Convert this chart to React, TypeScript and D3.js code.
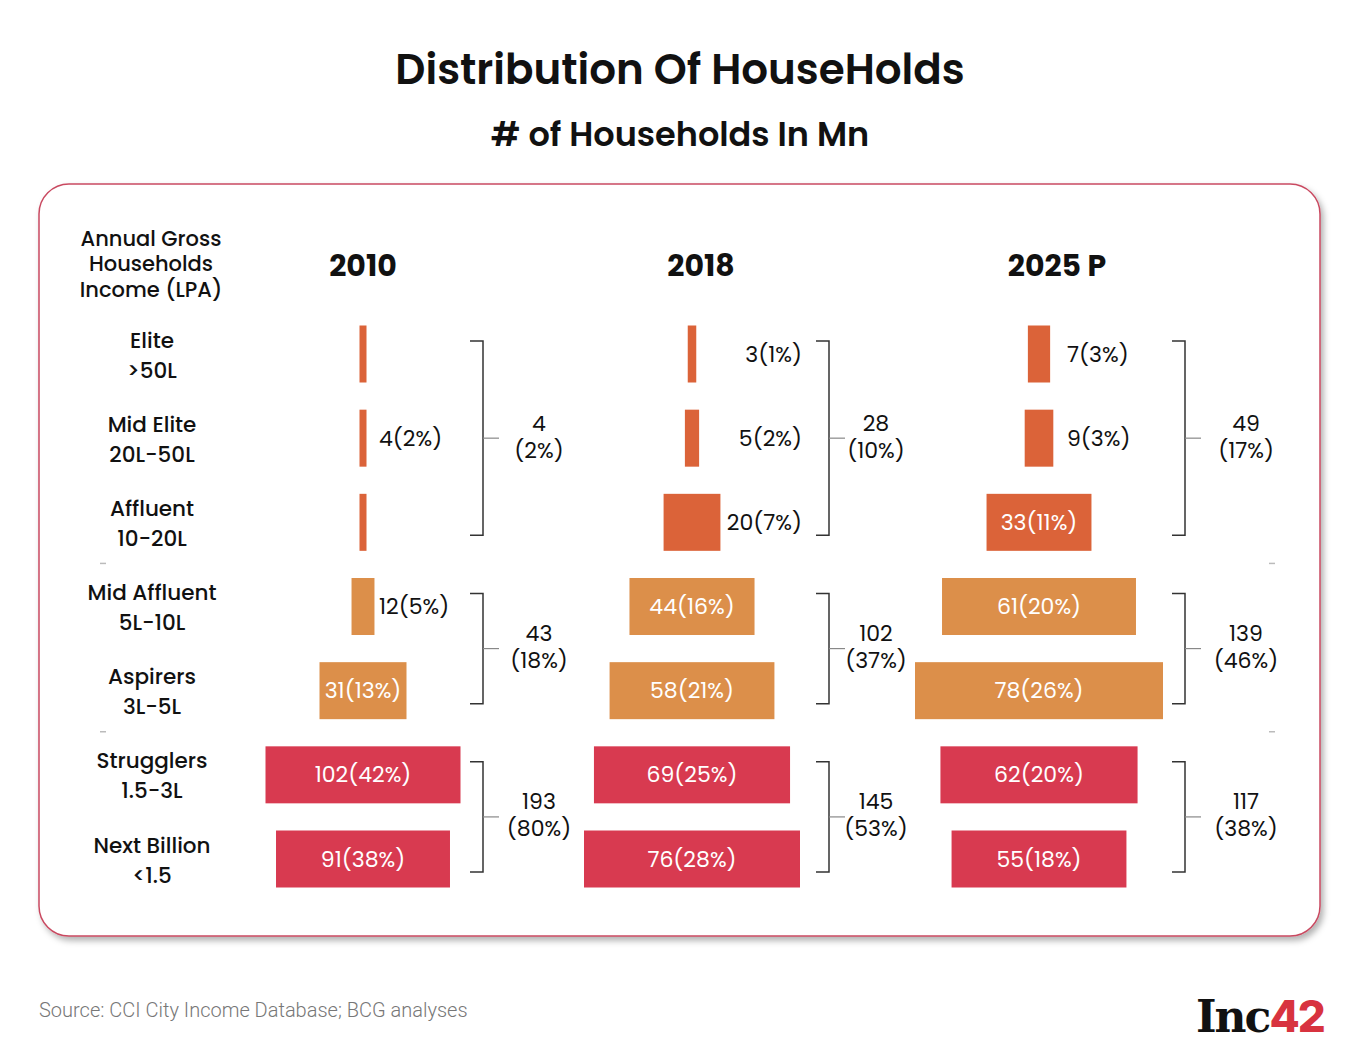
import React from "react";
import * as d3 from "d3";

// ---------- data ----------
const categories = ["Elite", "Mid Elite", "Affluent", "Mid Affluent", "Aspirers", "Strugglers", "Next Billion"];
const incomeRanges = [">50L", "20L-50L", "10-20L", "5L-10L", "3L-5L", "1.5-3L", "<1.5"];
const years = ["2010", "2018", "2025 P"];

const values2010 = [1.3, 1.3, 1.4, 12, 31, 102, 91];
const pct2010: (number | null)[] = [null, 2, null, 5, 13, 42, 38];
const labelValue2010: (number | null)[] = [null, 4, null, 12, 31, 102, 91];

const values2018 = [3, 5, 20, 44, 58, 69, 76];
const pct2018 = [1, 2, 7, 16, 21, 25, 28];

const values2025 = [7, 9, 33, 61, 78, 62, 55];
const pct2025 = [3, 3, 11, 20, 26, 20, 18];

const groups = [
  { name: "Rich", rows: [0, 1, 2] },
  { name: "Middle", rows: [3, 4] },
  { name: "Low", rows: [5, 6] },
];
const groupTotals2010 = [4, 43, 193];
const groupPct2010 = [2, 18, 80];
const groupTotals2018 = [28, 102, 145];
const groupPct2018 = [10, 37, 53];
const groupTotals2025 = [49, 139, 117];
const groupPct2025 = [17, 46, 38];

const source = "Source: CCI City Income Database; BCG analyses";

// ---------- layout ----------
const W = 1360;
const H = 1058;
const FONT = "Poppins, Inter, 'Noto Sans', sans-serif";
const groupColors = ["#DB6339", "#DC8F4A", "#D83A50"];

const columns = [
  {
    year: years[0], values: values2010, pct: pct2010, labelValues: labelValue2010,
    totals: groupTotals2010, totalsPct: groupPct2010,
    center: 363, headerX: 363, maxW: 195, outside: { x: 379, anchor: "start" },
    bracketX: 483, totalX: 539,
  },
  {
    year: years[1], values: values2018, pct: pct2018, labelValues: values2018,
    totals: groupTotals2018, totalsPct: groupPct2018,
    center: 692, headerX: 701, maxW: 216, outside: { x: 802, anchor: "end" },
    bracketX: 829, totalX: 876,
  },
  {
    year: years[2], values: values2025, pct: pct2025, labelValues: values2025,
    totals: groupTotals2025, totalsPct: groupPct2025,
    center: 1039, headerX: 1057, maxW: 248, outside: { x: 1067, anchor: "start" },
    bracketX: 1185, totalX: 1246,
  },
];

const rowGroup = (i: number) => groups.findIndex((g) => g.rows.includes(i));

export default function App() {
  const y = d3.scalePoint<string>().domain(categories).range([354, 859]);
  const barH = 57;
  const insideThreshold = 30;
  const labelSize = 22;
  const rowLabelSize = 21.5;

  return (
    <svg
      width={W}
      height={H}
      style={{ display: "block", background: "#fff", position: "absolute", left: 0, top: 0 }}
      fontFamily={FONT}
    >
      <defs>
        <filter id="shadow" x="-5%" y="-5%" width="112%" height="115%">
          <feDropShadow dx="3" dy="4" stdDeviation="3" floodColor="#000" floodOpacity="0.3" />
        </filter>
      </defs>

      {/* titles */}
      <text x={680} y={84} textAnchor="middle" fontSize={42} fontWeight={600} fill="#111">
        Distribution Of HouseHolds
      </text>
      <text x={680} y={146} textAnchor="middle" fontSize={33.5} fontWeight={600} fill="#111">
        # of Households In Mn
      </text>

      {/* panel */}
      <rect x={39} y={184} width={1281} height={752} rx={30} ry={30} fill="#fff" stroke="#C94A61" strokeWidth={1.5} filter="url(#shadow)" />

      {/* header */}
      {["Annual Gross", "Households", "Income (LPA)"].map((t, i) => (
        <text key={t} x={151} y={238 + i * 25.5} textAnchor="middle" dominantBaseline="central" fontSize={21} fontWeight={500} fill="#111">
          {t}
        </text>
      ))}
      {columns.map((c) => (
        <text key={c.year} x={c.headerX} y={265} textAnchor="middle" dominantBaseline="central" fontSize={30} fontWeight={700} fill="#111">
          {c.year}
        </text>
      ))}

      {/* row labels */}
      {categories.map((cat, i) => (
        <g key={cat}>
          <text x={152} y={(y(cat) as number) - 14} textAnchor="middle" dominantBaseline="central" fontSize={rowLabelSize} fontWeight={500} fill="#111">
            {cat}
          </text>
          <text x={152} y={(y(cat) as number) + 16} textAnchor="middle" dominantBaseline="central" fontSize={rowLabelSize} fontWeight={500} fill="#111">
            {incomeRanges[i]}
          </text>
        </g>
      ))}

      {/* separators */}
      {[2, 4].map((r) => {
        const yy = ((y(categories[r]) as number) + (y(categories[r + 1]) as number)) / 2 - 1;
        return (
          <g key={r}>
            <line x1={100} x2={106} y1={yy} y2={yy} stroke="#bbb" strokeWidth={1.5} />
            <line x1={1269} x2={1275} y1={yy} y2={yy} stroke="#bbb" strokeWidth={1.5} />
          </g>
        );
      })}

      {/* columns */}
      {columns.map((c) => {
        const maxV = d3.max(c.values) as number;
        const w = d3.scaleLinear().domain([0, maxV]).range([0, c.maxW]);
        return (
          <g key={c.year}>
            {c.values.map((v, i) => {
              const cy = y(categories[i]) as number;
              const lv = c.labelValues[i];
              const p = c.pct[i];
              const label = lv != null && p != null ? `${lv}(${p}%)` : "";
              const inside = v >= insideThreshold;
              let bw = Math.max(7, w(v));
              if (inside) bw = Math.max(bw, label.length * 11 + 10);
              return (
                <g key={i}>
                  <rect x={c.center - bw / 2} y={cy - barH / 2} width={bw} height={barH} fill={groupColors[rowGroup(i)]} />
                  {label && (
                    <text
                      x={inside ? c.center : c.outside.x}
                      y={cy}
                      textAnchor={inside ? "middle" : (c.outside.anchor as any)}
                      dominantBaseline="central"
                      fontSize={labelSize}
                      fill={inside ? "#fff" : "#111"}
                    >
                      {label}
                    </text>
                  )}
                </g>
              );
            })}
            {groups.map((g, gi) => {
              const top = (y(categories[g.rows[0]]) as number) - 13;
              const bot = (y(categories[g.rows[g.rows.length - 1]]) as number) + 13;
              const mid = (top + bot) / 2;
              const bx = c.bracketX;
              return (
                <g key={g.name}>
                  <path d={`M${bx - 13},${top}H${bx}V${bot}H${bx - 13}`} fill="none" stroke="#333" strokeWidth={1.5} />
                  <line x1={bx} x2={bx + 16} y1={mid} y2={mid} stroke="#888" strokeWidth={1.2} />
                  <text x={c.totalX} y={mid - 15} textAnchor="middle" dominantBaseline="central" fontSize={labelSize} fill="#111">
                    {c.totals[gi]}
                  </text>
                  <text x={c.totalX} y={mid + 12} textAnchor="middle" dominantBaseline="central" fontSize={labelSize} fill="#111">
                    ({c.totalsPct[gi]}%)
                  </text>
                </g>
              );
            })}
          </g>
        );
      })}

      {/* footer */}
      <text x={39} y={1017} fontSize={20} fontFamily="Roboto, sans-serif" fontWeight={300} fill="#777">
        {source}
      </text>
      <text x={1196} y={1032} fontSize={44} fontWeight={700} fontFamily="'DejaVu Serif', serif" fill="#111" letterSpacing={-2}>
        Inc<tspan fill="#D8333F" fontFamily="Inter, sans-serif" fontWeight={800}>42</tspan>
      </text>
    </svg>
  );
}
